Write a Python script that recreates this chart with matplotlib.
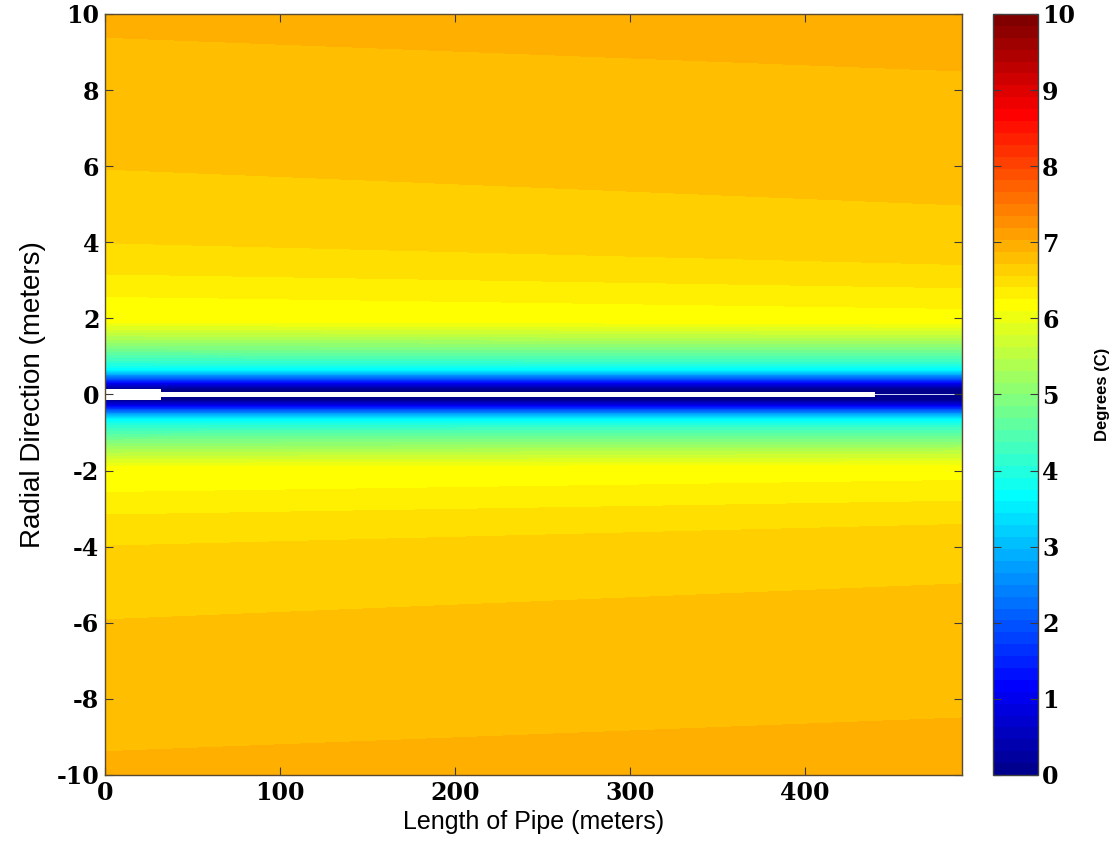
import numpy as np
import matplotlib
matplotlib.use("Agg")
import matplotlib.pyplot as plt
from matplotlib.colors import ListedColormap

# radial distance from pipe centre (m) and temperature read at both ends of the pipe
r_nodes = [0.0, 0.12, 0.2, 0.3, 0.45, 0.65, 0.9, 1.2, 1.5, 1.9, 2.6, 3.2, 4.0, 6.0, 9.5, 10.0]
temp_start = [0.0, 0.05, 0.4, 1.15, 2.35, 3.6, 4.25, 4.85, 5.4, 6.1, 6.255, 6.415, 6.565, 6.725, 6.88, 6.905]
temp_end = [0.0, 0.05, 0.4, 1.15, 2.35, 3.6, 4.3, 4.9, 5.5, 6.15, 6.345, 6.525, 6.665, 6.775, 6.915, 6.925]
pipe_stations = [0, 490]

# the pipe itself (white strip along r = 0)
pipe_x = [0, 32, 440, 490]
pipe_halfwidth = [0.14, 0.075, 0.02]
pipe_colors = ['white', 'white', '#c9d3f2']

x_ticks = [0, 100, 200, 300, 400]
y_ticks = [-10, -8, -6, -4, -2, 0, 2, 4, 6, 8, 10]
cbar_ticks = [0, 1, 2, 3, 4, 5, 6, 7, 8, 9, 10]


def matlab_jet(m=64):
    # same ramps as the old matlab jet(m)
    n = int(np.ceil(m / 4))
    u = np.concatenate([np.arange(1, n + 1) / n, np.ones(n - 1), np.arange(n, 0, -1) / n])
    g = int(np.ceil(n / 2)) - (1 if m % 4 == 1 else 0) + np.arange(1, len(u) + 1)
    r = g + n
    b = g - n
    J = np.zeros((m, 3))
    J[r[r <= m] - 1, 0] = u[r <= m]
    J[g[g <= m] - 1, 1] = u[g <= m]
    J[b[b >= 1] - 1, 2] = u[b >= 1]
    return ListedColormap(J)


# mirror the radial profile to both sides of the pipe
rr = np.array(r_nodes)
y = np.concatenate([-rr[::-1], rr[1:]])
t0 = np.array(temp_start)
t1 = np.array(temp_end)
Z = np.column_stack([np.concatenate([t0[::-1], t0[1:]]),
                     np.concatenate([t1[::-1], t1[1:]])])

fig = plt.figure(figsize=(11.15, 8.57), dpi=100)
ax = fig.add_axes([0.0942, 0.0957, 0.7686, 0.888])

cmap = matlab_jet(64)
levels = np.linspace(0, 10, 65)
cs = ax.contourf(pipe_stations, y, Z, levels=levels, cmap=cmap)

for i in range(len(pipe_halfwidth)):
    ax.fill_between([pipe_x[i], pipe_x[i + 1]], -pipe_halfwidth[i], pipe_halfwidth[i],
                    color=pipe_colors[i], lw=0)

ax.set_xlim(0, 490)
ax.set_ylim(-10, 10)
ax.set_xticks(x_ticks)
ax.set_yticks(y_ticks)

tick_font = {'family': 'DejaVu Serif', 'weight': 'bold', 'size': 17}
ax.set_xticklabels([str(v) for v in x_ticks], fontdict=tick_font)
ax.set_yticklabels([str(v) for v in y_ticks], fontdict=tick_font)
ax.tick_params(direction='in', top=True, right=True, length=6, width=0.8,
               color='#3a3a3a', pad=4)

for s in ax.spines.values():
    s.set_color('#5a4a30')
    s.set_linewidth(1.0)

ax.set_xlabel('Length of Pipe (meters)', family='Liberation Sans', fontsize=18, labelpad=4)
ax.set_ylabel('Radial Direction (meters)', family='Liberation Sans', fontsize=20, labelpad=8)

cax = fig.add_axes([0.8906, 0.0957, 0.0404, 0.888])
cb = fig.colorbar(cs, cax=cax, ticks=cbar_ticks)
cb.ax.set_yticklabels([str(v) for v in cbar_ticks], fontdict=tick_font)
cb.ax.tick_params(direction='in', left=True, right=True, length=6, width=0.8,
                  color='#3a3a3a', pad=3)
cb.outline.set_edgecolor('#404040')
cb.outline.set_linewidth(1.0)
cb.set_label('Degrees (C)', family='Liberation Sans', weight='bold', fontsize=12, labelpad=14)

fig.savefig('out.png', dpi=100)
